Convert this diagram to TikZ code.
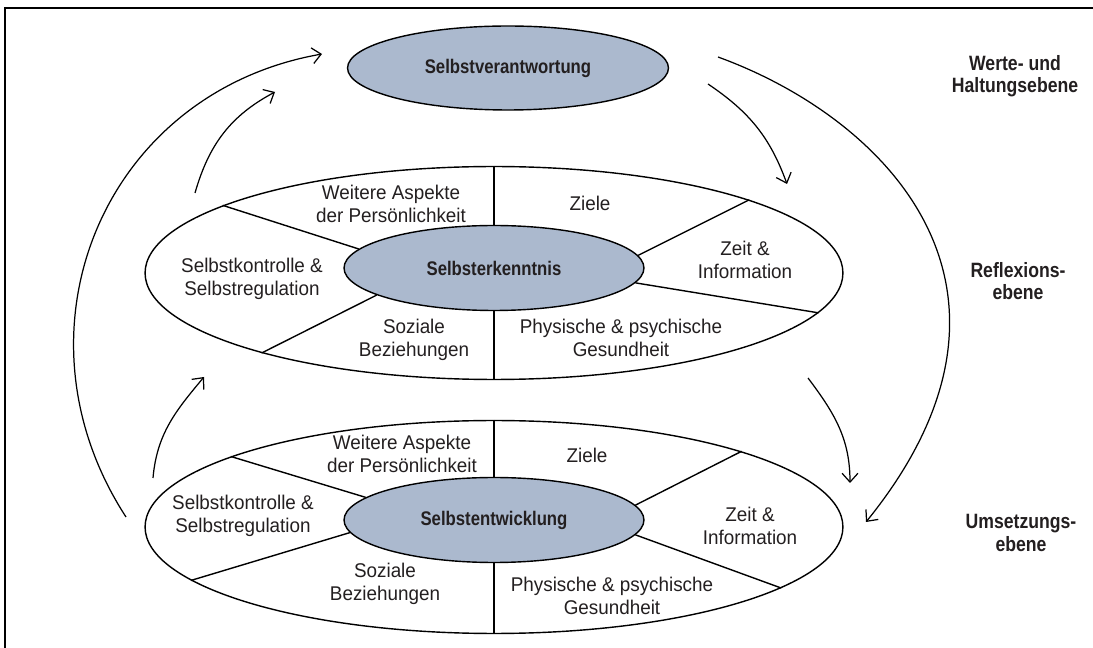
\documentclass[tikz,border=0pt]{standalone}
\usepackage{fontspec}
\setmainfont{Liberation Sans}
\newfontfamily\feldfont[FakeStretch=0.95]{Liberation Sans}
\newfontfamily\ebenefont[FakeStretch=0.85]{Liberation Sans}
\usetikzlibrary{shapes.geometric,arrows.meta}
\definecolor{kernblau}{RGB}{171,185,206}
\definecolor{schrift}{RGB}{35,31,32}
\tikzset{
  ring/.style={draw,ellipse,line width=0.8pt,inner sep=0pt,minimum width=13.96cm,minimum height=4.26cm},
  kern/.style={draw,ellipse,fill=kernblau,line width=0.8pt,inner sep=0pt,minimum width=6cm,minimum height=1.7cm,font=\ebenefont\fontsize{11.2}{12}\selectfont\bfseries,text=schrift},
  feld/.style={align=center,inner sep=0pt,font=\feldfont\fontsize{11.3}{13}\selectfont,text=schrift},
  ebene/.style={align=center,inner sep=0pt,font=\ebenefont\fontsize{11.8}{12.8}\selectfont\bfseries,text=schrift},
  teiler/.style={line width=0.8pt},
  pfeil/.style={line width=0.7pt,-{Straight Barb[length=5pt,width=9pt]}}
}
\begin{document}
\begin{tikzpicture}[x=0.02cm,y=0.02cm]
\useasboundingbox (0,0) rectangle (1093,-648);
% Rahmen
\draw[line width=0.8pt] (5,-648) -- (5,-8) -- (1093,-8);

% Werte- und Haltungsebene
\node[kern,minimum width=6.42cm,minimum height=1.68cm] (verantwortung) at (508,-68) {Selbstverantwortung};

% Reflexionsebene
\node[ring] (reflexion) at (494,-273) {};
\node[kern] (erkenntnis) at (494,-268) {Selbsterkenntnis};
\draw[teiler] (reflexion.north) -- (erkenntnis.north);
\draw[teiler] (erkenntnis.south) -- (reflexion.south);
\draw[teiler] (reflexion.166) -- (erkenntnis.172);
\draw[teiler] (reflexion.199) -- (erkenntnis.193);
\draw[teiler] (reflexion.16) -- (erkenntnis.5);
\draw[teiler] (reflexion.353) -- (erkenntnis.354);
\node[feld] (r-aspekte) at (391,-204) {Weitere Aspekte\\der Persönlichkeit};
\node[feld] (r-kontrolle) at (252,-279) {Selbstkontrolle \&\\Selbstregulation};
\node[feld] (r-sozial) at (414,-340) {Soziale\\Beziehungen};
\node[feld] (r-ziele) at (590,-203) {Ziele};
\node[feld] (r-zeit) at (745,-260) {Zeit \&\\Information};
\node[feld] (r-gesund) at (621,-338) {Physische \& psychische\\Gesundheit};

% Umsetzungsebene
\node[ring] (umsetzung) at (494,-527) {};
\node[kern] (entwicklung) at (494,-520) {Selbstentwicklung};
\draw[teiler] (umsetzung.north) -- (entwicklung.north);
\draw[teiler] (entwicklung.south) -- (umsetzung.south);
\draw[teiler] (umsetzung.165) -- (entwicklung.170);
\draw[teiler] (umsetzung.190) -- (entwicklung.185);
\draw[teiler] (umsetzung.17) -- (entwicklung.6);
\draw[teiler] (umsetzung.348) -- (entwicklung.354);
\node[feld] (u-aspekte) at (402,-454) {Weitere Aspekte\\der Persönlichkeit};
\node[feld] (u-kontrolle) at (243,-516) {Selbstkontrolle \&\\Selbstregulation};
\node[feld] (u-sozial) at (385,-584) {Soziale\\Beziehungen};
\node[feld] (u-ziele) at (587,-455) {Ziele};
\node[feld] (u-zeit) at (750,-526) {Zeit \&\\Information};
\node[feld] (u-gesund) at (612,-596) {Physische \& psychische\\Gesundheit};

% Ebenen
\node[ebene] (werte) at (1015,-76) {Werte- und\\Haltungsebene};
\node[ebene] (reflexionsebene) at (1018,-281) {Reflexions-\\ebene};
\node[ebene] (umsetzungsebene) at (1021,-533) {Umsetzungs-\\ebene};

% Pfeile
\coordinate (p1a) at (126,-517);
\coordinate (p1b) at (322,-54);
\coordinate (p2a) at (195,-193);
\coordinate (p2b) at (275,-92);
\coordinate (p3a) at (153,-478);
\coordinate (p3b) at (204,-377);
\coordinate (p4a) at (708,-84);
\coordinate (p4b) at (787,-184);
\coordinate (p5a) at (808,-378);
\coordinate (p5b) at (850,-483);
\coordinate (p6a) at (718,-57);
\coordinate (p6b) at (866,-522);
\draw[pfeil] (p1a) to[out=123,in=190,looseness=1.13] (p1b);
\draw[pfeil] (p2a) to[out=74,in=208] (p2b);
\draw[pfeil] (p3a) to[out=85,in=230] (p3b);
\draw[pfeil] (p4a) to[out=-34,in=110] (p4b);
\draw[pfeil] (p5a) to[out=-53,in=90] (p5b);
\draw[pfeil] (p6a) to[out=-20,in=51,out looseness=0.94,in looseness=1.57] (p6b);
\end{tikzpicture}
\end{document}
